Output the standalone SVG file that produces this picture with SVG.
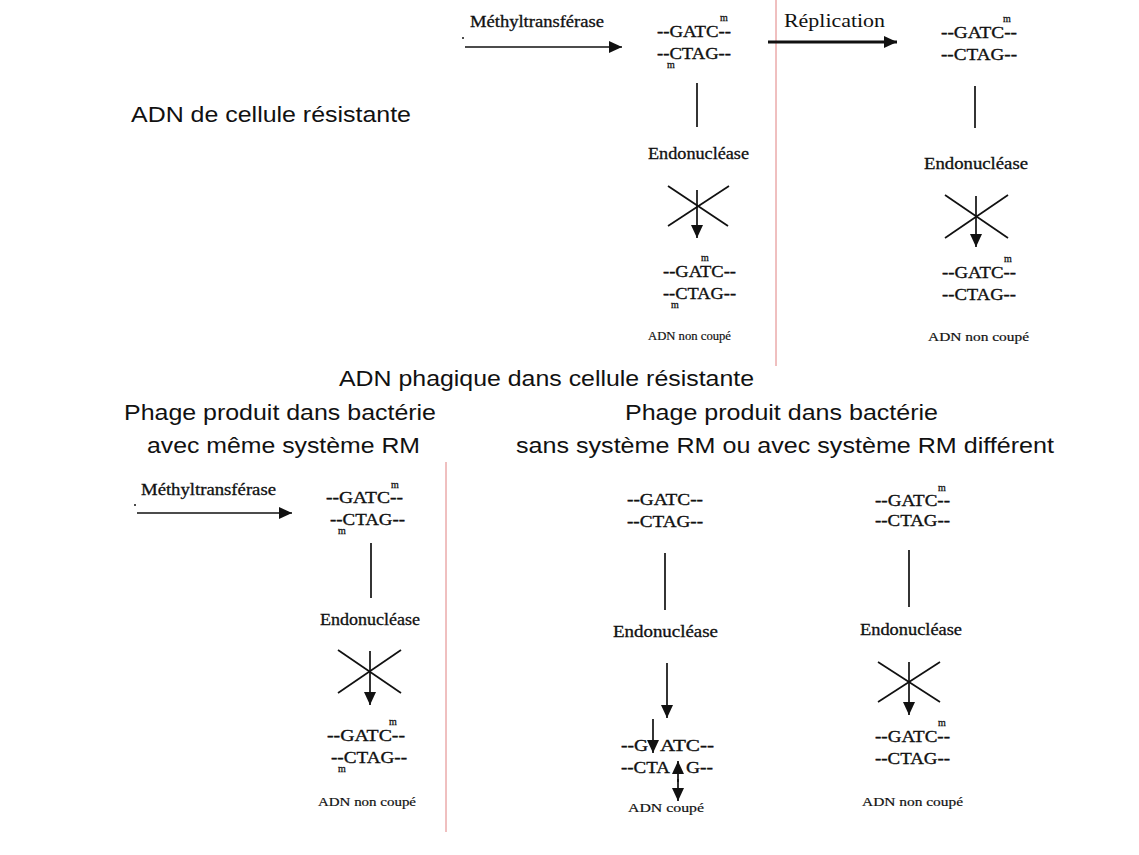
<svg xmlns="http://www.w3.org/2000/svg" width="1139" height="855" viewBox="0 0 1139 855">
<style>
.sans{font-family:"Liberation Sans",Arial,sans-serif;font-size:22px;fill:#111}
.dna{font-family:"Liberation Serif","Times New Roman",serif;font-size:17px;fill:#111;stroke:#111;stroke-width:0.35}
.lbl{font-family:"Liberation Serif","Times New Roman",serif;font-size:16px;fill:#111;stroke:#111;stroke-width:0.3}
.sm{font-family:"Liberation Serif","Times New Roman",serif;font-size:12.5px;fill:#111;stroke:#111;stroke-width:0.2}
.m{font-family:"Liberation Serif","Times New Roman",serif;font-size:10px;fill:#111;stroke:#111;stroke-width:0.3}
.ln{stroke:#111;stroke-width:1.7;fill:none}
.red{stroke:#e08080;stroke-width:1;fill:none}
</style>
<defs>
<marker id="ah" markerWidth="14" markerHeight="12" refX="13" refY="6" orient="auto" markerUnits="userSpaceOnUse"><path d="M0,0 L13,6 L0,12 Z" fill="#111"/></marker>
<marker id="ahb" markerWidth="14" markerHeight="14" refX="13" refY="6" orient="auto" markerUnits="userSpaceOnUse"><path d="M0,0 L13,6 L0,12 Z" fill="#111"/></marker>
</defs>
<rect width="1139" height="855" fill="#fff"/>

<g id="titles">
<text class="sans" x="131" y="122" textLength="280" lengthAdjust="spacingAndGlyphs">ADN de cellule résistante</text>
<text class="sans" x="339" y="386" textLength="415" lengthAdjust="spacingAndGlyphs">ADN phagique dans cellule résistante</text>
<text class="sans" x="124" y="420" textLength="312" lengthAdjust="spacingAndGlyphs">Phage produit dans bactérie</text>
<text class="sans" x="147" y="453" textLength="273" lengthAdjust="spacingAndGlyphs">avec même système RM</text>
<text class="sans" x="625" y="420" textLength="313" lengthAdjust="spacingAndGlyphs">Phage produit dans bactérie</text>
<text class="sans" x="516" y="453" textLength="538" lengthAdjust="spacingAndGlyphs">sans système RM ou avec système RM différent</text>
</g>

<g id="separators">
<line class="red" x1="776" y1="0" x2="776" y2="366"/>
<line class="red" x1="446" y1="462" x2="446" y2="832"/>
</g>

<g id="top-methyl">
<text class="lbl" x="470" y="27" textLength="134" lengthAdjust="spacingAndGlyphs">Méthyltransférase</text>
<circle cx="463" cy="38" r="1" fill="#111"/>
</g>
<g id="top-dna1">
<text class="dna" x="657" y="37" textLength="74" lengthAdjust="spacingAndGlyphs">--GATC--</text>
<text class="m" x="720" y="21">m</text>
<text class="dna" x="657" y="59" textLength="74" lengthAdjust="spacingAndGlyphs">--CTAG--</text>
<text class="m" x="667" y="68">m</text>
</g>
<g id="top-endo1">
<text class="lbl" x="648" y="159" textLength="101" lengthAdjust="spacingAndGlyphs">Endonucléase</text>
</g>
<g id="top-dna2">
<text class="dna" x="663" y="277" textLength="73" lengthAdjust="spacingAndGlyphs">--GATC--</text>
<text class="m" x="701" y="261">m</text>
<text class="dna" x="663" y="299" textLength="73" lengthAdjust="spacingAndGlyphs">--CTAG--</text>
<text class="m" x="671" y="308">m</text>
<text class="sm" x="648" y="340" textLength="83" lengthAdjust="spacingAndGlyphs">ADN non coupé</text>
</g>

<g id="top-replication">
<text x="784" y="27" font-family="Liberation Serif,Times New Roman,serif" font-size="19" fill="#111" textLength="101" lengthAdjust="spacingAndGlyphs">Réplication</text>
</g>
<g id="top-dna3">
<text class="dna" x="941" y="38" textLength="76" lengthAdjust="spacingAndGlyphs">--GATC--</text>
<text class="m" x="1003" y="22">m</text>
<text class="dna" x="941" y="60" textLength="76" lengthAdjust="spacingAndGlyphs">--CTAG--</text>
</g>
<g id="top-endo2">
<text class="lbl" x="924" y="169" textLength="104" lengthAdjust="spacingAndGlyphs">Endonucléase</text>
</g>
<g id="top-dna4">
<text class="dna" x="942" y="278" textLength="74" lengthAdjust="spacingAndGlyphs">--GATC--</text>
<text class="m" x="1004" y="262">m</text>
<text class="dna" x="942" y="300" textLength="74" lengthAdjust="spacingAndGlyphs">--CTAG--</text>
<text class="sm" x="928" y="341" textLength="101" lengthAdjust="spacingAndGlyphs">ADN non coupé</text>
</g>

<g id="bl-methyl">
<text class="lbl" x="141" y="495" textLength="135" lengthAdjust="spacingAndGlyphs">Méthyltransférase</text>
<circle cx="135" cy="505" r="1" fill="#111"/>
</g>
<g id="bl-dna1">
<text class="dna" x="326" y="503" textLength="77" lengthAdjust="spacingAndGlyphs">--GATC--</text>
<text class="m" x="391" y="488">m</text>
<text class="dna" x="330" y="525" textLength="75" lengthAdjust="spacingAndGlyphs">--CTAG--</text>
<text class="m" x="338" y="534">m</text>
</g>
<g id="bl-endo">
<text class="lbl" x="320" y="625" textLength="100" lengthAdjust="spacingAndGlyphs">Endonucléase</text>
</g>
<g id="bl-dna2">
<text class="dna" x="327" y="741" textLength="78" lengthAdjust="spacingAndGlyphs">--GATC--</text>
<text class="m" x="389" y="725">m</text>
<text class="dna" x="331" y="763" textLength="76" lengthAdjust="spacingAndGlyphs">--CTAG--</text>
<text class="m" x="338" y="772">m</text>
<text class="sm" x="318" y="806" textLength="98" lengthAdjust="spacingAndGlyphs">ADN non coupé</text>
</g>

<g id="bm-dna1">
<text class="dna" x="627" y="505" textLength="76" lengthAdjust="spacingAndGlyphs">--GATC--</text>
<text class="dna" x="627" y="527" textLength="76" lengthAdjust="spacingAndGlyphs">--CTAG--</text>
</g>
<g id="bm-endo">
<text class="lbl" x="613" y="637" textLength="105" lengthAdjust="spacingAndGlyphs">Endonucléase</text>
</g>
<g id="bm-dna2">
<text class="dna" x="621" y="751" textLength="27" lengthAdjust="spacingAndGlyphs">--G</text>
<text class="dna" x="660" y="751" textLength="54" lengthAdjust="spacingAndGlyphs">ATC--</text>
<text class="dna" x="621" y="773" textLength="49" lengthAdjust="spacingAndGlyphs">--CTA</text>
<text class="dna" x="686" y="773" textLength="27" lengthAdjust="spacingAndGlyphs">G--</text>
<text class="sm" x="628" y="812" textLength="76" lengthAdjust="spacingAndGlyphs">ADN coupé</text>
</g>

<g id="br-dna1">
<text class="dna" x="875" y="506" textLength="75" lengthAdjust="spacingAndGlyphs">--GATC--</text>
<text class="m" x="938" y="491">m</text>
<text class="dna" x="875" y="526" textLength="75" lengthAdjust="spacingAndGlyphs">--CTAG--</text>
</g>
<g id="br-endo">
<text class="lbl" x="860" y="635" textLength="102" lengthAdjust="spacingAndGlyphs">Endonucléase</text>
</g>
<g id="br-dna2">
<text class="dna" x="875" y="742" textLength="75" lengthAdjust="spacingAndGlyphs">--GATC--</text>
<text class="m" x="938" y="726">m</text>
<text class="dna" x="875" y="764" textLength="75" lengthAdjust="spacingAndGlyphs">--CTAG--</text>
<text class="sm" x="862" y="806" textLength="101" lengthAdjust="spacingAndGlyphs">ADN non coupé</text>
</g>

<g id="connectors">
<line class="ln" x1="465" y1="47" x2="622" y2="47" marker-end="url(#ah)"/>
<line class="ln" x1="697" y1="83" x2="697" y2="127"/>
<line class="ln" x1="668" y1="186" x2="728" y2="226"/>
<line class="ln" x1="668" y1="226" x2="729" y2="186"/>
<line class="ln" x1="697" y1="190" x2="697" y2="238" marker-end="url(#ah)"/>
<line stroke="#111" stroke-width="3.2" x1="768" y1="42" x2="897" y2="42" marker-end="url(#ahb)"/>
<line class="ln" x1="975" y1="86" x2="975" y2="128"/>
<line class="ln" x1="945" y1="195" x2="1008" y2="238"/>
<line class="ln" x1="945" y1="238" x2="1008" y2="195"/>
<line class="ln" x1="976" y1="196" x2="976" y2="247" marker-end="url(#ah)"/>
<line class="ln" x1="137" y1="513" x2="292" y2="513" marker-end="url(#ah)"/>
<line class="ln" x1="371" y1="543" x2="371" y2="598"/>
<line class="ln" x1="338" y1="650" x2="401" y2="693"/>
<line class="ln" x1="338" y1="693" x2="401" y2="650"/>
<line class="ln" x1="370" y1="651" x2="370" y2="705" marker-end="url(#ah)"/>
<line class="ln" x1="665" y1="553" x2="665" y2="610"/>
<line class="ln" x1="667" y1="663" x2="667" y2="718" marker-end="url(#ah)"/>
<line class="ln" x1="653" y1="719" x2="653" y2="753" marker-end="url(#ah)"/>
<line class="ln" x1="678" y1="782" x2="678" y2="761" marker-end="url(#ah)"/>
<line class="ln" x1="678" y1="779" x2="678" y2="801" marker-end="url(#ah)"/>
<line class="ln" x1="909" y1="550" x2="909" y2="607"/>
<line class="ln" x1="878" y1="662" x2="940" y2="702"/>
<line class="ln" x1="878" y1="702" x2="940" y2="662"/>
<line class="ln" x1="909" y1="662" x2="909" y2="715" marker-end="url(#ah)"/>
</g>
</svg>
